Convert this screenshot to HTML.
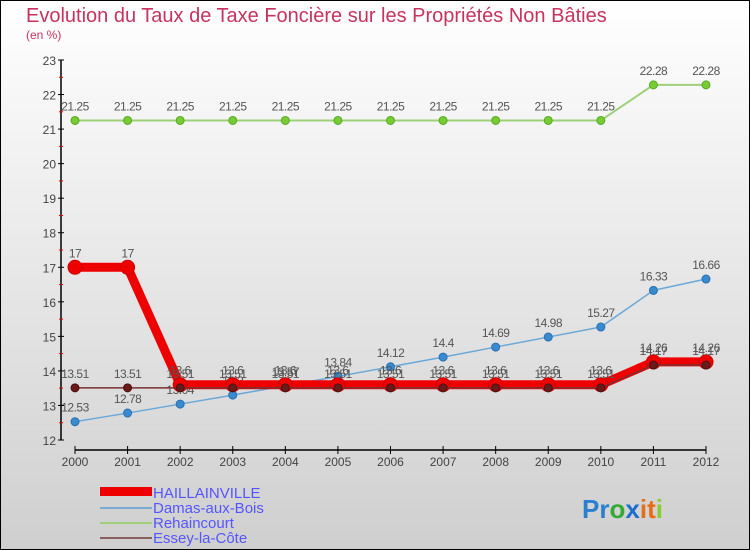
<!DOCTYPE html>
<html><head><meta charset="utf-8"><style>
body{margin:0;width:750px;height:550px;overflow:hidden;font-family:"Liberation Sans",sans-serif}
#frame{position:absolute;left:0;top:0;width:748px;height:548px;border:1px solid #000;background:linear-gradient(#fff,#cfcfcf)}
</style></head><body>
<div id="frame">
<svg id="chart" width="750" height="550" style="position:absolute;left:-1px;top:-1px">
<text x="26" y="22" font-size="20" fill="#c8325e">Evolution du Taux de Taxe Foncière sur les Propriétés Non Bâties</text>
<text x="26" y="39" font-size="12" fill="#c8325e">(en %)</text>
<g id="axes"></g><g id="series"></g>
<g>
<rect x="100" y="487" width="52" height="9" fill="#e00"/>
<text x="153" y="498" font-size="15" fill="#55f">HAILLAINVILLE</text>
<line x1="100" y1="508" x2="152" y2="508" stroke="#7aabd0" stroke-width="2"/>
<text x="153" y="513" font-size="15" fill="#55f">Damas-aux-Bois</text>
<line x1="100" y1="523" x2="152" y2="523" stroke="#9ed07a" stroke-width="2"/>
<text x="153" y="528" font-size="15" fill="#55f">Rehaincourt</text>
<line x1="100" y1="538" x2="152" y2="538" stroke="#8a6060" stroke-width="2"/>
<text x="153" y="543" font-size="15" fill="#55f">Essey-la-Côte</text>
</g>
<text x="582" y="518" font-size="26" font-weight="bold"><tspan fill="#2a7fd0">Pr</tspan><tspan fill="#3a3">o</tspan><tspan fill="#1a6fd0">x</tspan><tspan fill="#e07020">i</tspan><tspan fill="#ee6a10">t</tspan><tspan fill="#8c3">i</tspan></text>
</svg></div>
<script>
const years=[2000,2001,2002,2003,2004,2005,2006,2007,2008,2009,2010,2011,2012];
const yTicks=[12,13,14,15,16,17,18,19,20,21,22,23];
const haillainville=[17,17,13.6,13.6,13.6,13.6,13.6,13.6,13.6,13.6,13.6,14.26,14.26];
const damas=[12.53,12.78,13.04,13.3,13.57,13.84,14.12,14.4,14.69,14.98,15.27,16.33,16.66];
const rehaincourt=[21.25,21.25,21.25,21.25,21.25,21.25,21.25,21.25,21.25,21.25,21.25,22.28,22.28];
const essey=[13.51,13.51,13.51,13.51,13.51,13.51,13.51,13.51,13.51,13.51,13.51,14.17,14.17];
const NS="http://www.w3.org/2000/svg";
const X=i=>75+i*(706-75)/(years.length-1);
const Y=v=>440-(v-12)*(380/11);
function mk(t,a,p){const e=document.createElementNS(NS,t);for(const k in a)e.setAttribute(k,a[k]);p.appendChild(e);return e;}
const ax=document.getElementById('axes'),sg=document.getElementById('series');
const yl=mk('line',{x1:61,y1:60,x2:61,y2:440,stroke:'#000','stroke-width':1.5},ax);


const xl=mk('line',{x1:75,y1:450,x2:706,y2:450,stroke:'#000','stroke-width':1.5},ax);


yTicks.forEach(v=>{mk('line',{x1:58,x2:64,y1:Y(v),y2:Y(v),stroke:'#000'},ax);
 if(v<23)mk('line',{x1:59,x2:63,y1:Y(v+0.5),y2:Y(v+0.5),stroke:'#e00'},ax);
 const t=mk('text',{x:56,y:Y(v)+5,'font-size':12,fill:'#444','text-anchor':'end'},ax);t.textContent=v;
 
 });
years.forEach((yr,i)=>{mk('line',{x1:X(i),x2:X(i),y1:446,y2:454,stroke:'#000'},ax);
 const t=mk('text',{x:X(i),y:466,'font-size':12,fill:'#444','text-anchor':'middle'},ax);t.textContent=yr;
 
 });
function series(d,name,color,w,r,pc,ps){
 const g=mk('g',{},sg);
 
 
 mk('polyline',{points:d.map((v,i)=>X(i)+','+Y(v)).join(' '),fill:'none',stroke:color,'stroke-width':w,'stroke-linejoin':'round'},g);
 d.forEach((v,i)=>{const c=mk('circle',{cx:X(i),cy:Y(v),r:r,fill:pc,stroke:ps,'stroke-width':1},g);
  
  
  const t=mk('text',{x:X(i),y:Y(v)-10,'font-size':12,fill:'#555','text-anchor':'middle','letter-spacing':'-0.5'},g);t.textContent=v;
  
  });
}
series(rehaincourt,'rehaincourt','#9ed07a',2,4,'#7c3','#5a2');
series(damas,'damas','#6aa8d8',1.5,4,'#3a8ad0','#2670b0');
series(haillainville,'haillainville','#e00',9,7,'#e00','#c00');
series(essey,'essey','#7a3030',1.5,4,'#6a1a1a','#501010');
</script></body></html>
